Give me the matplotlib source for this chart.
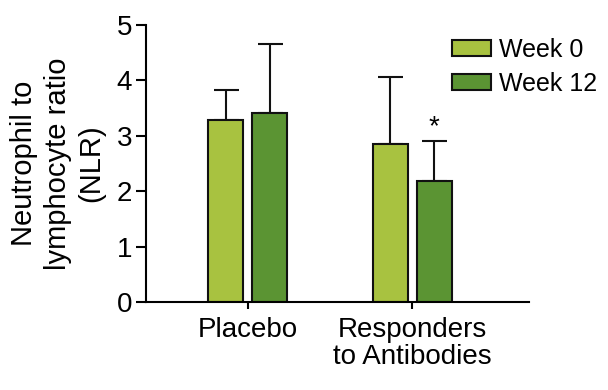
import matplotlib
matplotlib.use("Agg")
import matplotlib.pyplot as plt
import numpy as np

plt.rcParams['font.family'] = ['Liberation Sans', 'DejaVu Sans']

groups = ["Placebo", "Responders\nto Antibodies"]
series = ["Week 0", "Week 12"]
means = {"Week 0": [3.28, 2.86], "Week 12": [3.42, 2.18]}
errs = {"Week 0": [0.55, 1.20], "Week 12": [1.23, 0.73]}
colors = {"Week 0": "#a8c240", "Week 12": "#5b9433"}

fig = plt.figure(figsize=(6.08, 3.90), dpi=100)
ax = fig.add_axes([0.240, 0.2256, 0.630, 0.710])

x = np.arange(len(groups))
width = 0.213
offsets = [-0.134, 0.134]
for s, off in zip(series, offsets):
    ax.bar(x + off, means[s], width, color=colors[s], edgecolor="#111111",
           linewidth=1.5, label=s, zorder=2)
    ax.errorbar(x + off, means[s], yerr=[np.zeros(len(groups)), errs[s]],
                fmt="none", ecolor="#111111", elinewidth=1.5, capsize=9,
                capthick=1.5, zorder=1)

# significance marker above Week 12 responders
ax.text(x[1] + offsets[1], means["Week 12"][1] + errs["Week 12"][1] + 0.02, "*",
        ha="center", va="bottom", fontsize=20)

ax.set_xlim(-0.62, 1.71)
ax.set_ylim(0, 5)
ax.set_yticks([0, 1, 2, 3, 4, 5])
ax.set_xticks(x)
ax.set_xticklabels(groups, fontsize=20, linespacing=1.05)
ax.tick_params(axis="y", labelsize=20, length=7, width=1.5, pad=3)
ax.tick_params(axis="x", length=5, width=1.5, pad=6)
for side in ["top", "right"]:
    ax.spines[side].set_visible(False)
for side in ["left", "bottom"]:
    ax.spines[side].set_linewidth(1.5)

ax.set_ylabel("Neutrophil to\nlymphocyte ratio\n(NLR)", fontsize=21,
              linespacing=1.25, labelpad=8)

ax.legend(loc="upper left", bbox_to_anchor=(0.80, 0.955), frameon=False,
          fontsize=18, handlelength=1.55, handleheight=0.6, handletextpad=0.3,
          labelspacing=0.4, borderaxespad=0, borderpad=0)

fig.savefig("out.png", dpi=100)
